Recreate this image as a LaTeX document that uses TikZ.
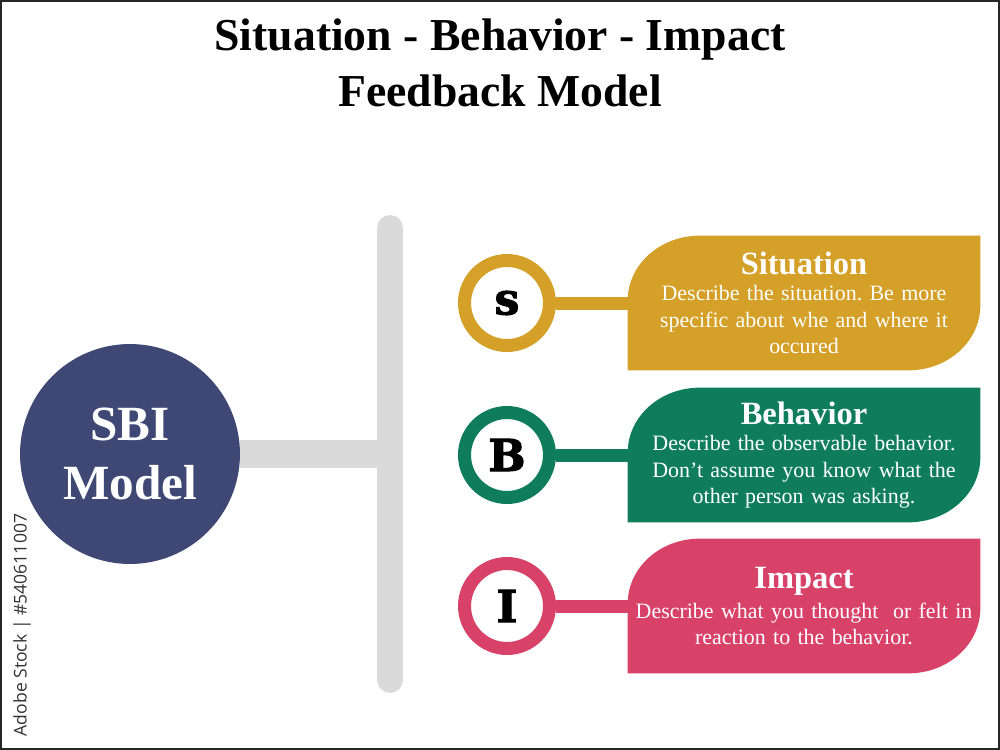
\documentclass[tikz,border=0pt]{standalone}
\usepackage{fontspec}
\setmainfont{Liberation Serif}
\newfontfamily\letterfont[BoldFeatures={FakeBold=2.5}]{DejaVu Serif}
\newfontfamily\wmfont{Open Sans}
\usetikzlibrary{backgrounds,calc}
\frenchspacing
\definecolor{sgold}{HTML}{D4A028}
\definecolor{bgreen}{HTML}{0F7D5A}
\definecolor{ipink}{HTML}{D84168}
\definecolor{sbinavy}{HTML}{3F4874}
\definecolor{bargray}{HTML}{DADADA}
\tikzset{
  lettercirc/.style={circle, draw=#1, line width=7.4pt, fill=white, minimum size=1.7cm, inner sep=0pt,
    font=\letterfont\bfseries\fontsize{25pt}{25pt}\selectfont},
  leafbox/.style={minimum width=7.04cm, minimum height=2.68cm, inner sep=0pt, text width=7cm,
    align=center, text=white, font=\fontsize{12.5pt}{15pt}\selectfont},
  link/.style={draw=#1, line width=7.4pt},
  graybar/.style={draw=bargray, line width=#1},
  sbicirc/.style={circle, fill=sbinavy, minimum size=4.4cm, inner sep=0pt, text=white, align=center,
    font=\bfseries\fontsize{28pt}{34pt}\selectfont},
  titlestyle/.style={align=center, font=\bfseries\fontsize{26pt}{32.3pt}\selectfont},
  wmstyle/.style={rotate=90, text=black!80, font=\wmfont\fontsize{10pt}{10pt}\selectfont}
}
\newcommand{\leafshape}[2]{%
  \begin{pgfonlayer}{background}
  \fill[#2] (#1.south west) -- ([yshift=-1.3cm]#1.north west)
    .. controls ([yshift=-0.58cm]#1.north west) and ([xshift=0.645cm]#1.north west) .. ([xshift=1.44cm]#1.north west)
    -- (#1.north east) -- ([yshift=1.3cm]#1.south east)
    .. controls ([yshift=0.58cm]#1.south east) and ([xshift=-0.645cm]#1.south east) .. ([xshift=-1.44cm]#1.south east)
    -- cycle;
  \end{pgfonlayer}}
\newcommand{\btitle}[1]{{\fontsize{18.5pt}{15pt}\selectfont\bfseries #1}}
\begin{document}
\begin{tikzpicture}[x=0.02cm, y=-0.02cm]
\useasboundingbox (0,0) rectangle (1000,750);
\begin{pgfonlayer}{background}
\fill[white] (0,0) rectangle (1000,750);
\end{pgfonlayer}

% title
\node[titlestyle] (title) at (500,63) {Situation - Behavior - Impact\\Feedback Model};

% gray bars
\coordinate (bartop) at (390,228);
\coordinate (barbot) at (390,680);
\coordinate (barjoin) at (390,454);
\draw[graybar=14.7pt, line cap=round] (bartop) -- (barbot);

% SBI circle
\node[sbicirc] (sbi) at (130,454) {SBI\\Model};
\draw[graybar=15.9pt] (sbi.east) -- (barjoin);

% boxes
\node[leafbox] (sbox) at (804,303) {\btitle{Situation}\\Describe the situation. Be more\\specific about whe and where it\\occured};
\leafshape{sbox}{sgold}
\node[leafbox] (bbox) at (804,455) {\btitle{Behavior}\\Describe the observable behavior.\\Don't assume you know what the\\other person was asking.};
\leafshape{bbox}{bgreen}
\node[leafbox] (ibox) at (804,606) {\btitle{Impact}\\[2pt]Describe what you thought\ \ or felt in\\reaction to the behavior.};
\leafshape{ibox}{ipink}

% letter circles
\node[lettercirc=sgold] (sc) at (507,303) {s};
\node[lettercirc=bgreen] (bc) at (507,455) {B};
\node[lettercirc=ipink] (ic) at (507,606) {I};
\draw[link=sgold] (sc.east) -- (sbox.west);
\draw[link=bgreen] (bc.east) -- (bbox.west);
\draw[link=ipink] (ic.east) -- (ibox.west);

% watermark text
\node[wmstyle] (wm) at (22,625) {Adobe Stock | \#540611007};

% frame
\draw[line width=1.1pt, black!85] (1,1) rectangle (999,749);
\end{tikzpicture}
\end{document}
